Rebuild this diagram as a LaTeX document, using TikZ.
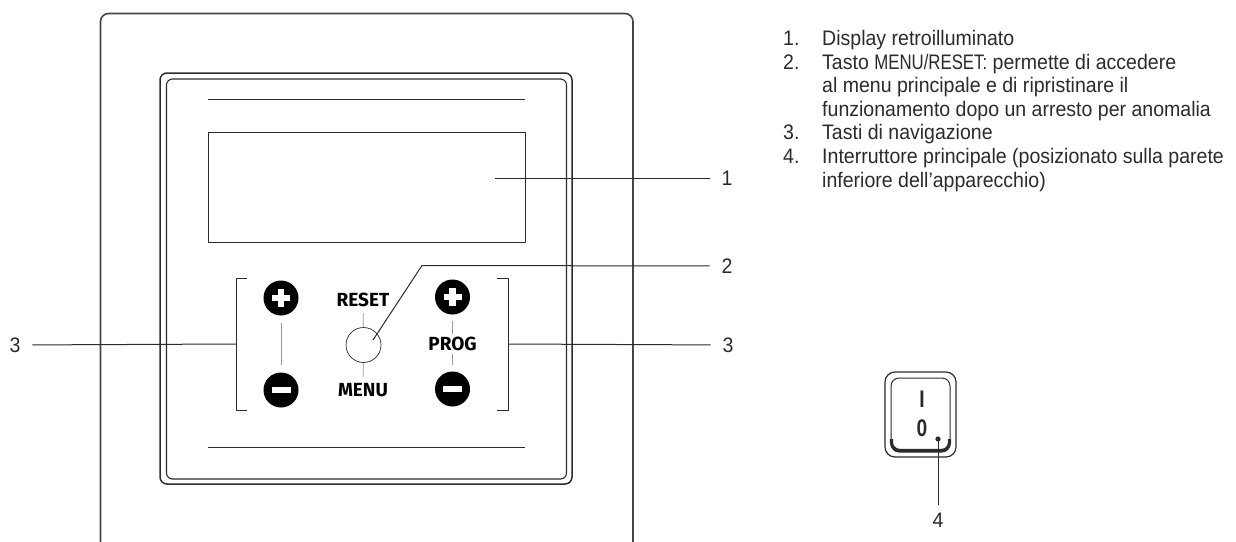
\documentclass[tikz,border=0pt]{standalone}
\usepackage{fontspec}
\setmainfont{Liberation Sans}[FakeStretch=0.93]
\newfontfamily\capsfont{Liberation Sans}[FakeStretch=0.8]
\newfontfamily\swfont{Liberation Sans}[FakeStretch=0.8]
\newfontfamily\keyfont{Fira Sans}
\usetikzlibrary{positioning}
\definecolor{ink}{HTML}{2B2B2B}
\definecolor{frame}{HTML}{454545}
\definecolor{lgray}{HTML}{9A9A9A}
\tikzset{
  frm/.style={draw=frame,line width=1.6pt,rounded corners=8pt},
  lead/.style={draw=ink,line width=1pt},
  num/.style={font=\fontsize{21}{24}\selectfont,text=ink,inner sep=0pt},
  itm/.style={font=\fontsize{21}{24}\selectfont,text=ink,inner sep=0pt,anchor=base west},
  swlbl/.style={font=\swfont\bfseries\fontsize{24}{26}\selectfont,text=ink,inner sep=0pt},
  key/.style={circle,fill=black,minimum size=35pt,inner sep=0pt},
  plusbtn/.style={key,path picture={
      \fill[white] (path picture bounding box.center) ++(-9,-3.4) rectangle ++(18,6.8);
      \fill[white] (path picture bounding box.center) ++(-3.4,-9) rectangle ++(6.8,18);}},
  minusbtn/.style={key,path picture={
      \fill[white] (path picture bounding box.center) ++(-9.5,-3.4) rectangle ++(19,6.8);}},
  klbl/.style={font=\keyfont\bfseries\fontsize{19}{21}\selectfont,inner sep=0pt},
  tick/.style={draw=lgray,line width=0.8pt},
}
\begin{document}
\begin{tikzpicture}[x=1pt,y=-1pt,line join=round]
  \useasboundingbox (0,0) rectangle (1236,541);

  % housing and control panel
  \draw[frm] (100.5,560) |- (633,13.5) -- (633,560);
  \draw[draw=ink,line width=1.5pt,rounded corners=7pt] (160,73) rectangle (572,484);
  \draw[draw=ink,line width=1.1pt,rounded corners=6pt] (166.5,79) rectangle (566.5,479);
  \draw[draw=ink,line width=1pt] (208,99) -- (525,99);
  \draw[draw=ink,line width=1pt] (208,447) -- (525,447);
  \node[draw=ink,line width=1pt,minimum width=317pt,minimum height=110pt,inner sep=0pt]
    (disp) at (366.5,187) {};

  % navigation keys
  \node[plusbtn]  (lp) at (281,298) {};
  \node[minusbtn] (lm) at (281,390) {};
  \node[plusbtn]  (rp) at (452.5,297) {};
  \node[minusbtn] (rm) at (452.5,389) {};
  \node[klbl] (reset) at (363,300) {RESET};
  \node[draw=ink,line width=0.7pt,circle,minimum size=35pt,inner sep=0pt] (mr) at (363.5,345) {};
  \node[klbl] (menu) at (363,390) {MENU};
  \node[klbl] (prog) at (452.5,344) {PROG};
  \draw[tick,shorten <=7pt,shorten >=7pt] (lp) -- (lm);
  \draw[tick,shorten <=6pt] (reset) -- (mr);
  \draw[tick,shorten >=6pt] (mr) -- (menu);
  \draw[tick,shorten <=6pt,shorten >=3pt] (rp) -- (prog);
  \draw[tick,shorten <=3pt,shorten >=6pt] (prog) -- (rm);

  % brackets
  \draw[draw=ink,line width=1pt] (247,278) -- (236,278) -- (236,410) -- (247,410);
  \draw[draw=ink,line width=1pt] (497,278) -- (508,278) -- (508,410) -- (497,410);
  \coordinate (bl) at (236,344);
  \coordinate (br) at (508,344);

  % main switch
  \draw[draw=ink,line width=1.2pt,rounded corners=10pt] (885,372) rectangle (956,457);
  \draw[draw=ink,line width=1pt,rounded corners=8pt] (891,378) rectangle (950,452);
  \draw[draw=ink,line width=3.2pt,rounded corners=8pt] (891.5,439) |- (949.5,450.4) -- (949.5,439);
  \node[swlbl] (swI) at (922,399.5) {I};
  \node[swlbl] (sw0) at (922,428.5) {0};
  \fill[ink] (938,439) circle (2.6pt) coordinate (p4);

  % callouts
  \coordinate (p1) at (495,178);
  \coordinate (p2) at (373,340);
  \coordinate (b2) at (422,265.5);
  \node[num,outer xsep=12pt] (n1) at (727,178) {1};
  \node[num,outer xsep=12pt] (n2) at (727,266) {2};
  \node[num,outer xsep=12pt] (n3l) at (15,345) {3};
  \node[num,outer xsep=12pt] (n3r) at (728,345) {3};
  \node[num,outer ysep=8pt] (n4) at (938,520) {4};
  \draw[lead] (p1) -- (n1);
  \draw[lead] (p2) -- (b2) -- (n2);
  \draw[lead] (bl) -- (n3l);
  \draw[lead] (br) -- (n3r);
  \draw[lead] (p4) -- (n4);

  % legend
  \foreach \n/\t [count=\i from 0] in {1./Display retroilluminato,
      2./{Tasto {\capsfont MENU/RESET:} permette di accedere},
      /al menu principale e di ripristinare il,
      /funzionamento dopo un arresto per anomalia,
      3./Tasti di navigazione,
      4./Interruttore principale (posizionato sulla parete,
      /inferiore dell’apparecchio)}{
    \node[itm] (k\i) at (783,45.5+23.6*\i) {\n};
    \node[itm] (t\i) at (822,45.5+23.6*\i) {\t};
  }
\end{tikzpicture}
\end{document}
